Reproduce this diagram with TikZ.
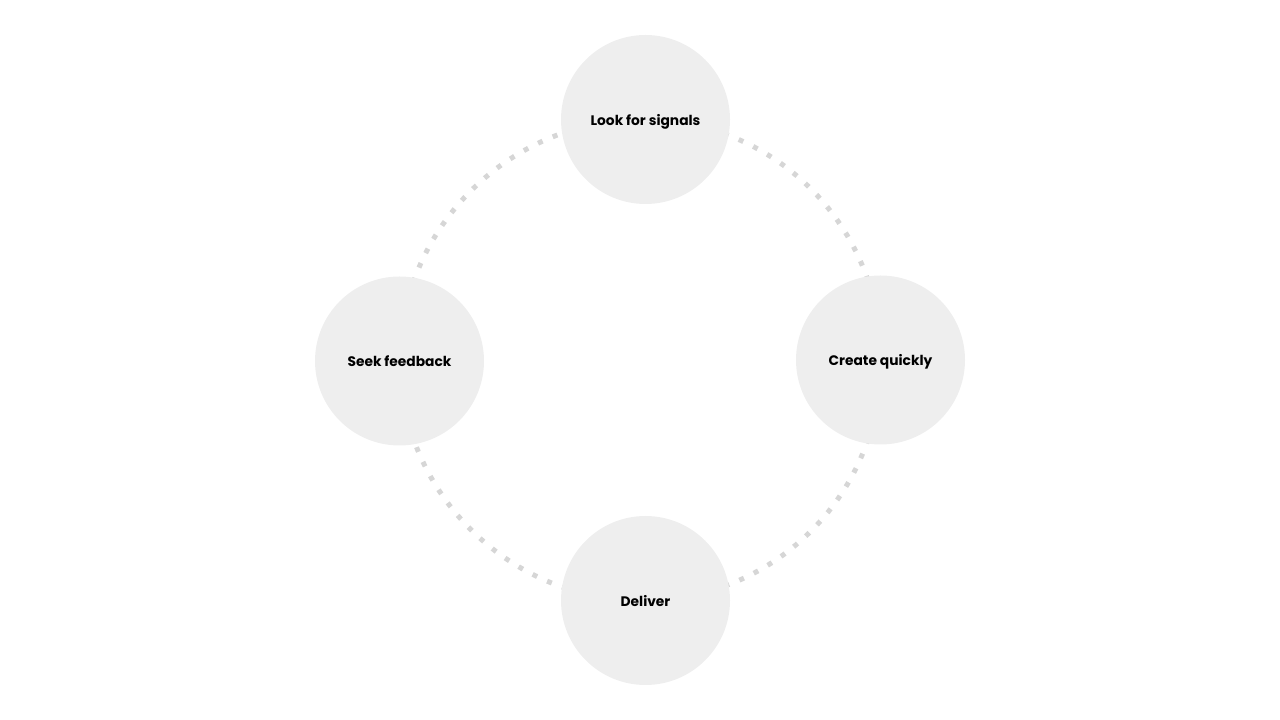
\documentclass[tikz,border=0pt]{standalone}
\usepackage{fontspec}
\setsansfont{Poppins}
\usetikzlibrary{positioning,backgrounds}
\definecolor{stepgray}{RGB}{238,238,238}
\definecolor{dotgray}{RGB}{214,214,214}

\begin{document}
\begin{tikzpicture}[
	x=1pt, y=1pt,
	stepcircle/.style={
		circle,
		draw=none,
		fill=stepgray,
		minimum size=169pt,
		inner sep=0pt,
		text height=12pt,
		text depth=0pt,
		font=\sffamily\bfseries\fontsize{13.8}{16}\selectfont
	},
	cycleline/.style={
		draw=dotgray,
		line width=5pt,
		line cap=butt,
		dash pattern=on 5pt off 11pt
	}
	]
	
	\useasboundingbox (0,0) rectangle (1280,720);
	
	% Step circles
	\node[stepcircle] (signals) at (645.5,600.5) {Look for signals};
	\node[stepcircle] (create) at (880.5,360) {Create quickly};
	\node[stepcircle] (deliver) at (645.5,119.5) {Deliver};
	\node[stepcircle] (feedback) at (399.5,359) {Seek feedback};
	
	% Dotted cycle behind the circles
	\begin{scope}[on background layer]
		\draw[cycleline] (signals.center) to[bend left=45] (create.center);
		\draw[cycleline] (create.center) to[bend left=45] (deliver.center);
		\draw[cycleline] (deliver.center) to[bend left=45] (feedback.center);
		\draw[cycleline] (feedback.center) to[bend left=45] (signals.center);
	\end{scope}
	
\end{tikzpicture}
\end{document}
